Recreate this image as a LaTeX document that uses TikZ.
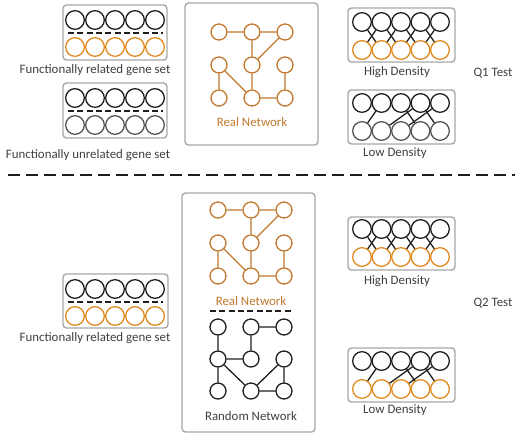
\documentclass[tikz,border=0pt]{standalone}
\usepackage{fontspec}
\setmainfont{Carlito}
\usetikzlibrary{positioning}
\definecolor{genecol}{HTML}{E0891F}
\definecolor{netcol}{HTML}{C0782C}
\definecolor{framecol}{HTML}{A8A8A8}
\definecolor{inkcol}{HTML}{1E1E1E}
\definecolor{greycol}{HTML}{555555}

\begin{document}
\begin{tikzpicture}
[x=0.03cm,y=-0.03cm,
 panel/.style = {draw=framecol, line width=1.2pt, rounded corners=3pt},
 gene/.style = {draw=inkcol, circle, line width=1.1pt, minimum size=0.56cm, inner sep=0pt},
 vertex/.style = {draw=netcol, circle, line width=1.1pt, minimum size=0.48cm, inner sep=0pt},
 link/.style = {draw=netcol, line width=1.1pt},
 tie/.style = {draw=inkcol, line width=1.1pt},
 sep/.style = {draw=inkcol, line width=1.2pt, dash pattern=on 0.18cm off 0.1cm},
 lbl/.style = {font=\fontsize{11}{13}\selectfont, text=inkcol!85, inner sep=1pt},
]
\useasboundingbox (0,0) rectangle (520,437);

% Q1 gene sets
\draw[panel] (63,5) rectangle (167,60);
\foreach \i in {1,...,5} {
  \node[gene] (sa\i) at (55+20*\i,20) {};
  \node[gene,draw=genecol] (sb\i) at (55+20*\i,47) {};
}
\draw[sep] (68,33) -- (163,33);
\node[lbl] (relA) at (95,70) {Functionally related gene set};

\draw[panel] (63,83) rectangle (167,138);
\foreach \i in {1,...,5} {
  \node[gene] (ua\i) at (55+20*\i,98) {};
  \node[gene,draw=greycol] (ub\i) at (55+20*\i,125) {};
}
\draw[sep] (68,111) -- (163,111);
\node[lbl] (unrel) at (88,155) {Functionally unrelated gene set};

% Q1 real network
\draw[panel] (185,3) rectangle (318,145);
\foreach \c/\px in {1/219,2/252,3/285}
  \foreach \r/\py in {1/32,2/65,3/98}
    \node[vertex] (p\r\c) at (\px,\py) {};
\draw[link] (p11)--(p12) (p12)--(p13) (p12)--(p22) (p13)--(p22) (p22)--(p32)
  (p21)--(p31) (p21)--(p32) (p23)--(p33) (p32)--(p33);
\node[lbl,text=netcol] (realA) at (252,122) {Real Network};

% Q1 densities
\draw[panel] (348,8) rectangle (455,62);
\foreach \i in {1,...,5} {
  \node[gene] (ha\i) at (342.5+19.5*\i,22) {};
  \node[gene,draw=genecol] (hb\i) at (342.5+19.5*\i,50) {};
}
\draw[tie] (ha1)--(hb2) (ha2)--(hb1) (ha2)--(hb3) (ha3)--(hb2)
  (ha3)--(hb4) (ha4)--(hb3) (ha4)--(hb5) (ha5)--(hb4);
\node[lbl] (highA) at (397,72) {High Density};

\draw[panel] (348,90) rectangle (455,144);
\foreach \i in {1,...,5} {
  \node[gene] (la\i) at (342.5+19.5*\i,103) {};
  \node[gene,draw=greycol] (lb\i) at (342.5+19.5*\i,131) {};
}
\draw[tie] (la2)--(lb1) (la4)--(lb2) (la3)--(lb4) (la4)--(lb5) (la5)--(lb3);
\node[lbl] (lowA) at (395,153) {Low Density};

\node[lbl] (qone) at (493,73) {Q1 Test};

% divider
\draw[inkcol, line width=1.4pt, dash pattern=on 0.36cm off 0.18cm] (8,175) -- (515,175);

% Q2 gene set
\draw[panel] (63,274) rectangle (168,328);
\foreach \i in {1,...,5} {
  \node[gene] (ca\i) at (55+20*\i,289) {};
  \node[gene,draw=genecol] (cb\i) at (55+20*\i,316) {};
}
\draw[sep] (68,302) -- (163,302);
\node[lbl] (relB) at (95,338) {Functionally related gene set};

% Q2 real vs random network
\draw[panel] (182,193) rectangle (315,432);
\foreach \c/\px in {1/218,2/251,3/284}
  \foreach \r/\py in {1/210,2/243,3/276}
    \node[vertex] (q\r\c) at (\px,\py) {};
\draw[link] (q11)--(q12) (q12)--(q13) (q12)--(q22) (q13)--(q22) (q22)--(q32)
  (q21)--(q31) (q21)--(q32) (q23)--(q33) (q32)--(q33);
\node[lbl,text=netcol] (realB) at (251,301) {Real Network};
\draw[sep] (210,311) -- (292,311);

\foreach \c/\px in {1/218,2/251,3/284}
  \foreach \r/\py in {1/327,2/359,3/391}
    \node[vertex,draw=inkcol] (n\r\c) at (\px,\py) {};
\draw[tie] (n11)--(n21) (n12)--(n13) (n12)--(n22) (n21)--(n22)
  (n21)--(n31) (n21)--(n32) (n32)--(n23) (n23)--(n33) (n32)--(n33);
\node[lbl] (rand) at (251,416) {Random Network};

% Q2 densities
\draw[panel] (348,217) rectangle (455,270);
\foreach \i in {1,...,5} {
  \node[gene] (hc\i) at (342.5+19.5*\i,229) {};
  \node[gene,draw=genecol] (hd\i) at (342.5+19.5*\i,257) {};
}
\draw[tie] (hc1)--(hd2) (hc2)--(hd1) (hc2)--(hd3) (hc3)--(hd2)
  (hc3)--(hd4) (hc4)--(hd3) (hc4)--(hd5) (hc5)--(hd4);
\node[lbl] (highB) at (397,281) {High Density};

\draw[panel] (348,348) rectangle (455,402);
\foreach \i in {1,...,5} {
  \node[gene] (lc\i) at (342.5+19.5*\i,361) {};
  \node[gene,draw=genecol] (ld\i) at (342.5+19.5*\i,389) {};
}
\draw[tie] (lc2)--(ld1) (lc4)--(ld2) (lc3)--(ld4) (lc4)--(ld5) (lc5)--(ld3);
\node[lbl] (lowB) at (395,410) {Low Density};

\node[lbl] (qtwo) at (493,303) {Q2 Test};
\end{tikzpicture}
\end{document}
